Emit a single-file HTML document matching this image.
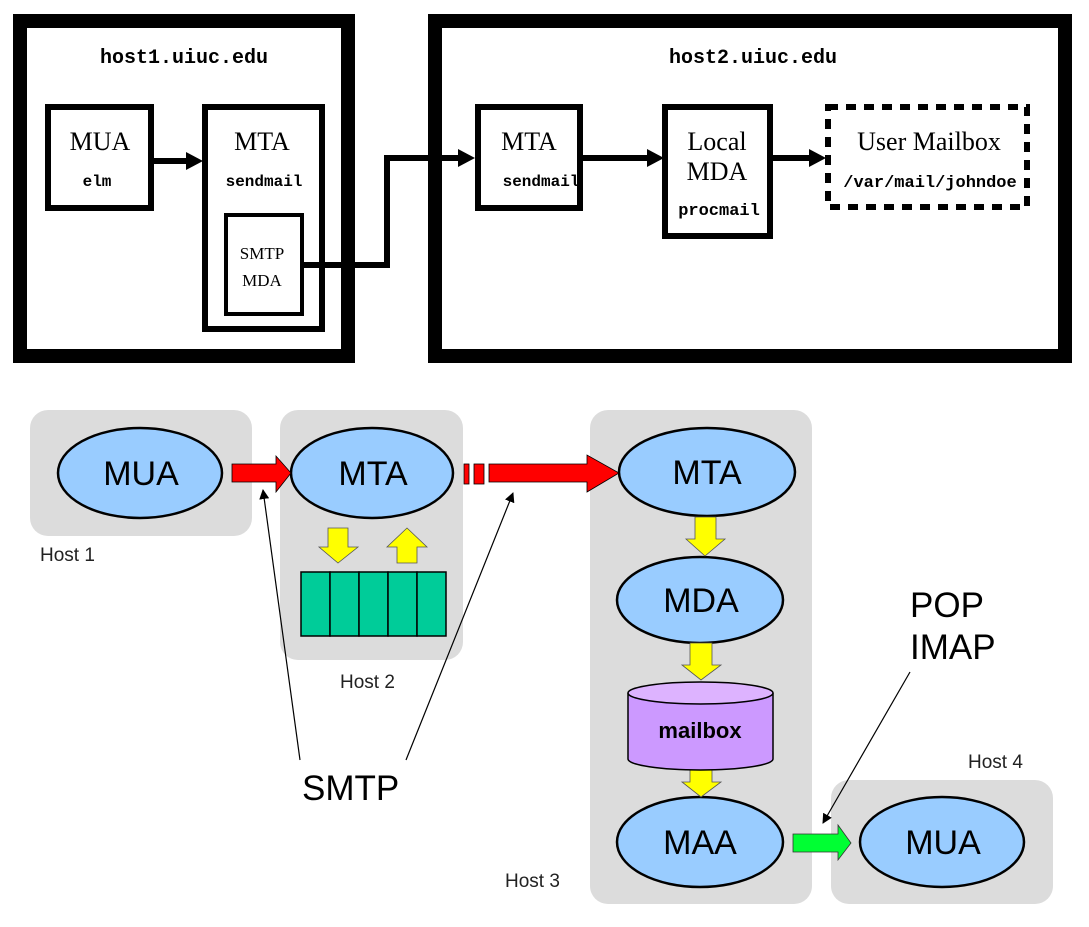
<!DOCTYPE html>
<html><head><meta charset="utf-8"><style>
html,body{margin:0;padding:0;background:#fff;}
svg{display:block;}
.ser{font-family:"Liberation Serif",serif;}
.mono{font-family:"Liberation Mono",monospace;font-weight:bold;}
.sans{font-family:"Liberation Sans",sans-serif;}
</style></head><body>
<svg width="1089" height="927" viewBox="0 0 1089 927" xmlns="http://www.w3.org/2000/svg">
<defs>
<marker id="ah" markerWidth="10" markerHeight="10" refX="9" refY="5" orient="auto" markerUnits="userSpaceOnUse">
<path d="M0,0 L10,5 L0,10 Z" fill="#000"/></marker>
</defs>
<!-- TOP -->
<rect x="20" y="21" width="328" height="335" fill="#fff" stroke="#000" stroke-width="14"/>
<rect x="435" y="21" width="630" height="335" fill="#fff" stroke="#000" stroke-width="14"/>
<text x="184" y="63" class="mono" font-size="20" text-anchor="middle">host1.uiuc.edu</text>
<text x="753" y="63" class="mono" font-size="20" text-anchor="middle">host2.uiuc.edu</text>

<rect x="48" y="107" width="103" height="101" fill="#fff" stroke="#000" stroke-width="6"/>
<text x="100" y="150" class="ser" font-size="26" text-anchor="middle">MUA</text>
<text x="97" y="186" class="mono" font-size="16" text-anchor="middle">elm</text>

<rect x="205" y="107" width="117" height="222" fill="#fff" stroke="#000" stroke-width="6"/>
<text x="262" y="150" class="ser" font-size="26" text-anchor="middle">MTA</text>
<text x="264" y="186" class="mono" font-size="16" text-anchor="middle">sendmail</text>
<rect x="226" y="215" width="76" height="99" fill="#fff" stroke="#000" stroke-width="4"/>
<text x="262" y="259" class="ser" font-size="17" text-anchor="middle">SMTP</text>
<text x="262" y="286" class="ser" font-size="17" text-anchor="middle">MDA</text>

<line x1="154" y1="161" x2="190" y2="161" stroke="#000" stroke-width="6"/>
<path d="M186,152 L203,161 L186,170 Z" fill="#000"/>
<polyline points="304,265 387,265 387,158 460,158" fill="none" stroke="#000" stroke-width="6"/>
<path d="M458,149 L475,158 L458,167 Z" fill="#000"/>

<rect x="478" y="107" width="102" height="101" fill="#fff" stroke="#000" stroke-width="6"/>
<text x="529" y="150" class="ser" font-size="26" text-anchor="middle">MTA</text>
<text x="541" y="186" class="mono" font-size="16" text-anchor="middle">sendmail</text>
<line x1="582" y1="158" x2="650" y2="158" stroke="#000" stroke-width="6"/>
<path d="M647,149 L664,158 L647,167 Z" fill="#000"/>

<rect x="665" y="107" width="105" height="129" fill="#fff" stroke="#000" stroke-width="6"/>
<text x="717" y="150" class="ser" font-size="26" text-anchor="middle">Local</text>
<text x="717" y="180" class="ser" font-size="26" text-anchor="middle">MDA</text>
<text x="719" y="215" class="mono" font-size="17" text-anchor="middle">procmail</text>
<line x1="772" y1="158" x2="812" y2="158" stroke="#000" stroke-width="6"/>
<path d="M809,149 L826,158 L809,167 Z" fill="#000"/>

<rect x="828" y="107" width="199" height="100" fill="#fff" stroke="#000" stroke-width="6" stroke-dasharray="10,8"/>
<text x="929" y="150" class="ser" font-size="26" text-anchor="middle">User Mailbox</text>
<text x="930" y="187" class="mono" font-size="17" text-anchor="middle">/var/mail/johndoe</text>

<!-- BOTTOM gray hosts -->
<rect x="30" y="410" width="222" height="126" rx="18" fill="#dcdcdc"/>
<rect x="280" y="410" width="183" height="250" rx="18" fill="#dcdcdc"/>
<rect x="590" y="410" width="222" height="494" rx="18" fill="#dcdcdc"/>
<rect x="831" y="780" width="222" height="124" rx="18" fill="#dcdcdc"/>

<text x="40" y="561" class="sans" font-size="19" fill="#222">Host 1</text>
<text x="340" y="688" class="sans" font-size="19" fill="#222">Host 2</text>
<text x="505" y="887" class="sans" font-size="19" fill="#222">Host 3</text>
<text x="968" y="768" class="sans" font-size="19" fill="#222">Host 4</text>

<g stroke="#000" stroke-width="2.5" fill="#99ccff">
<ellipse cx="140" cy="473" rx="82" ry="45"/>
<ellipse cx="372" cy="473" rx="81" ry="45"/>
<ellipse cx="707" cy="472" rx="88" ry="44"/>
<ellipse cx="700" cy="600" rx="83" ry="43"/>
<ellipse cx="700" cy="842" rx="83" ry="45"/>
<ellipse cx="942" cy="842" rx="82" ry="45"/>
</g>
<g class="sans" font-size="34" text-anchor="middle" fill="#000">
<text x="141" y="485">MUA</text>
<text x="373" y="485">MTA</text>
<text x="707" y="484">MTA</text>
<text x="701" y="612">MDA</text>
<text x="700" y="854">MAA</text>
<text x="943" y="854">MUA</text>
</g>

<!-- red arrows -->
<g fill="#ff0000" stroke="#000" stroke-width="0.8">
<path d="M232,464 L276,464 L276,456 L291,473 L276,492 L276,482 L232,482 Z"/>
<rect x="464" y="464" width="5" height="20"/>
<rect x="474" y="464" width="10" height="20"/>
<path d="M489,464 L587,464 L587,455 L619,473 L587,492 L587,482 L489,482 Z"/>
</g>

<!-- yellow arrows -->
<g fill="#ffff00" stroke="#555" stroke-width="0.8">
<path d="M328,528 L348,528 L348,547 L358,547 L338,563 L319,547 L328,547 Z"/>
<path d="M397,563 L417,563 L417,547 L427,547 L407,528 L387,547 L397,547 Z"/>
<path d="M695,517 L716,517 L716,539 L725,539 L705,556 L686,539 L695,539 Z"/>
<path d="M690,643 L712,643 L712,665 L721,665 L701,680 L682,665 L690,665 Z"/>
<path d="M690,762 L712,762 L712,782 L721,782 L701,797 L682,782 L690,782 Z"/>
</g>

<!-- queue -->
<g fill="#00cc99" stroke="#000" stroke-width="1.5">
<rect x="301" y="572" width="29" height="64"/>
<rect x="330" y="572" width="29" height="64"/>
<rect x="359" y="572" width="29" height="64"/>
<rect x="388" y="572" width="29" height="64"/>
<rect x="417" y="572" width="29" height="64"/>
</g>

<!-- cylinder -->
<path d="M628,693 L628,759 A72.5,11 0 0 0 773,759 L773,693" fill="#cc99ff" stroke="#000" stroke-width="1.5"/>
<ellipse cx="700.5" cy="693" rx="72.5" ry="11" fill="#ddb3ff" stroke="#000" stroke-width="1.5"/>
<text x="700" y="738" class="sans" font-size="22" font-weight="bold" text-anchor="middle">mailbox</text>

<!-- green arrow -->
<path d="M793,834 L838,834 L838,825 L851,843 L838,860 L838,852 L793,852 Z" fill="#00ff33" stroke="#333" stroke-width="0.8"/>

<!-- callouts -->
<text x="302" y="800" class="sans" font-size="35">SMTP</text>
<text x="910" y="617" class="sans" font-size="35">POP</text>
<text x="910" y="659" class="sans" font-size="35">IMAP</text>
<g stroke="#000" stroke-width="1.2" fill="none">
<line x1="300" y1="760" x2="263" y2="490" marker-end="url(#ah)"/>
<line x1="406" y1="760" x2="513" y2="493" marker-end="url(#ah)"/>
<line x1="910" y1="672" x2="823" y2="823" marker-end="url(#ah)"/>
</g>
</svg>
</body></html>
